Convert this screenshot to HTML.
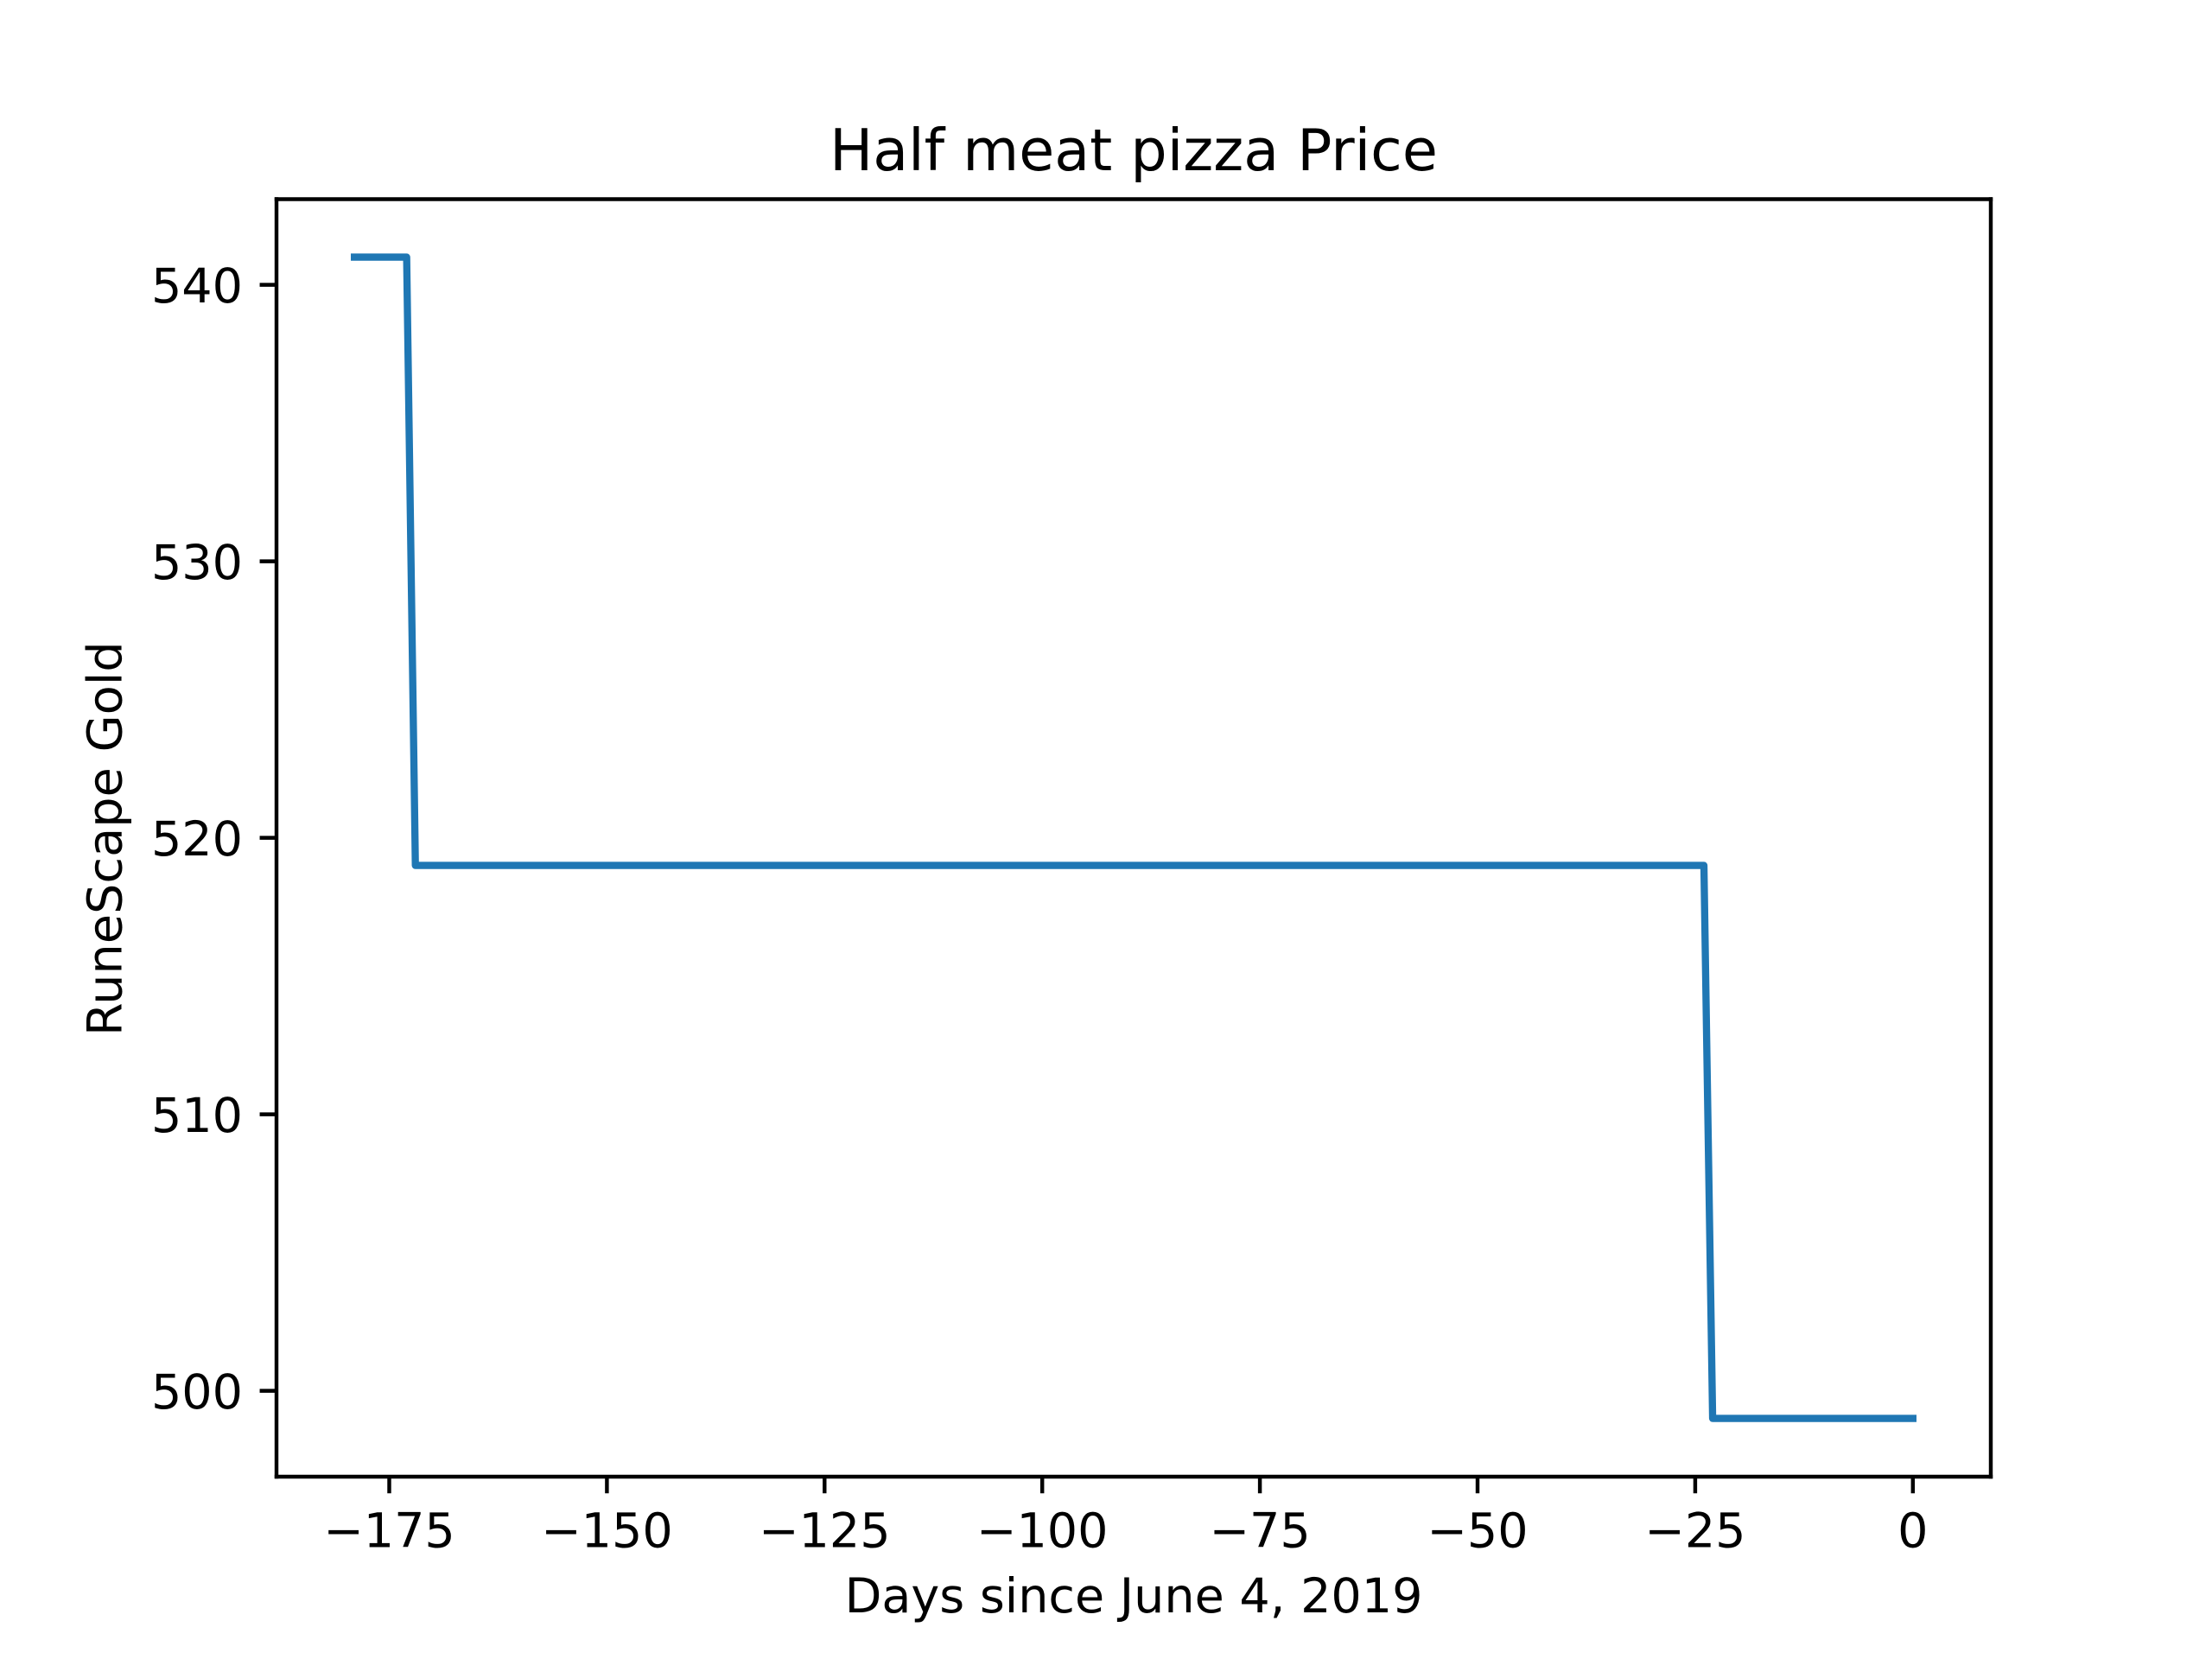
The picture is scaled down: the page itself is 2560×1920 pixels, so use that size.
<!DOCTYPE html>
<html lang="en">
<head>
<meta charset="utf-8">
<title>Half meat pizza Price</title>
<style>
  html, body { margin: 0; padding: 0; background: #fff; }
  svg { display: block; }
  text { font-family: "DejaVu Sans", "Liberation Sans", sans-serif; fill: #000; }
</style>
</head>
<body>
<svg id="chart" xmlns="http://www.w3.org/2000/svg" width="2560" height="1920" viewBox="0 0 2560 1920">
  <rect x="0" y="0" width="2560" height="1920" fill="#ffffff"/>
  <g id="x-ticks"></g>
  <g id="y-ticks"></g>
  <g id="series"></g>
  <g id="spines" stroke="#000" stroke-width="4.44" stroke-linecap="square" fill="none">
    <line x1="320" y1="230.5" x2="320" y2="1709"/>
    <line x1="2304" y1="230.5" x2="2304" y2="1709"/>
    <line x1="320" y1="230.5" x2="2304" y2="230.5"/>
    <line x1="320" y1="1709" x2="2304" y2="1709"/>
  </g>
  <text x="1312" y="197" font-size="66.67" text-anchor="middle">Half meat pizza Price</text>
  <text x="1312" y="1866" font-size="55.56" text-anchor="middle">Days since June 4, 2019</text>
  <text x="0" y="0" font-size="55.56" letter-spacing="0.1" text-anchor="middle" transform="translate(140.5 970.6) rotate(-90)">RuneScape Gold</text>
</svg>
<script>
const days = [-179, -173, -172, -24, -23, 0];
const prices = [541, 541, 519, 519, 499, 499];
const xTickValues = [-175, -150, -125, -100, -75, -50, -25, 0];
const xTickLabels = ["\u2212175", "\u2212150", "\u2212125", "\u2212100", "\u221275", "\u221250", "\u221225", "0"];
const yTickValues = [500, 510, 520, 530, 540];
const yTickLabels = ["500", "510", "520", "530", "540"];

const NS = "http://www.w3.org/2000/svg";
const plot = { left: 320, right: 2304, top: 230.4, bottom: 1708.8 };
const xMin = -187.95, xMax = 8.95, yMin = 496.9, yMax = 543.1;

function xScale(v) {
  return plot.left + (v - xMin) / (xMax - xMin) * (plot.right - plot.left);
}
function yScale(v) {
  return plot.bottom - (v - yMin) / (yMax - yMin) * (plot.bottom - plot.top);
}
function make(tag, attrs) {
  const el = document.createElementNS(NS, tag);
  for (const k in attrs) el.setAttribute(k, attrs[k]);
  return el;
}

const xGroup = document.getElementById("x-ticks");
xTickValues.forEach(function (v, i) {
  const x = xScale(v);
  const tick = make("line", { x1: x, x2: x, y1: plot.bottom, y2: plot.bottom + 19.44, stroke: "#000", "stroke-width": 4.44 });
  
  
  xGroup.appendChild(tick);
  const label = make("text", { x: x, y: 1790.5, "font-size": 55.56, "text-anchor": "middle" });
  
  
  label.textContent = xTickLabels[i];
  xGroup.appendChild(label);
});

const yGroup = document.getElementById("y-ticks");
yTickValues.forEach(function (v, i) {
  const y = yScale(v);
  const tick = make("line", { x1: plot.left - 19.44, x2: plot.left, y1: y, y2: y, stroke: "#000", "stroke-width": 4.44 });
  
  
  yGroup.appendChild(tick);
  const label = make("text", { x: 281, y: y + 20.3, "font-size": 55.56, "text-anchor": "end" });
  
  
  label.textContent = yTickLabels[i];
  yGroup.appendChild(label);
});

const points = days.map(function (d, i) {
  return xScale(d).toFixed(2) + "," + yScale(prices[i]).toFixed(2);
}).join(" ");
const priceLine = make("polyline", {
  points: points,
  fill: "none",
  stroke: "#1f77b4",
  "stroke-width": 8.33,
  "stroke-linejoin": "round",
  "stroke-linecap": "square"
});


document.getElementById("series").appendChild(priceLine);
</script>
</body>
</html>
